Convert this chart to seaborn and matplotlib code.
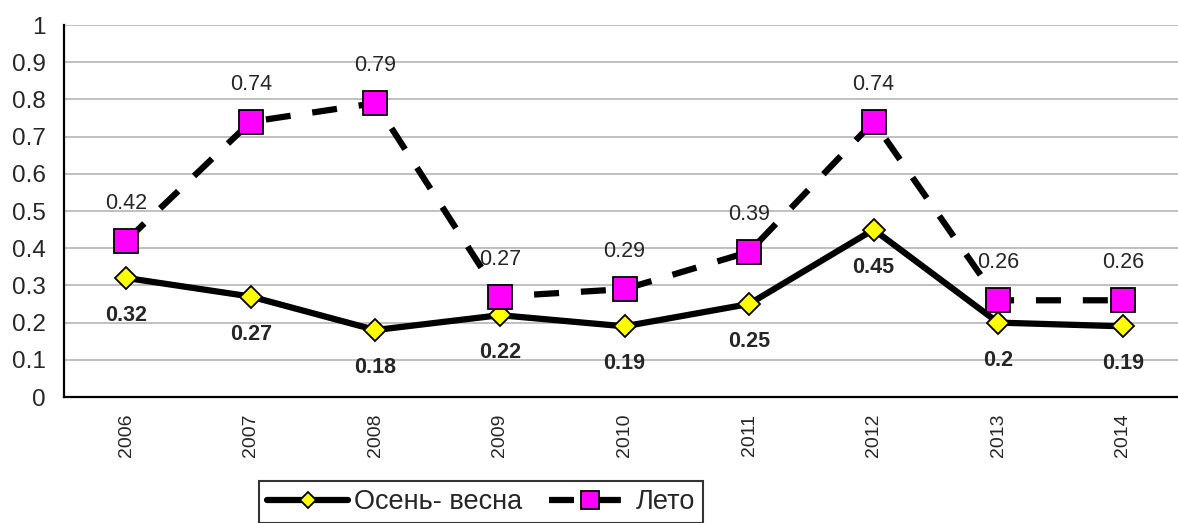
import numpy as np
import pandas as pd
import matplotlib
matplotlib.use("Agg")
import matplotlib.pyplot as plt
import seaborn as sns

years = ["2006", "2007", "2008", "2009", "2010", "2011", "2012", "2013", "2014"]
autumn_spring = [0.32, 0.27, 0.18, 0.22, 0.19, 0.25, 0.45, 0.2, 0.19]
summer = [0.42, 0.74, 0.79, 0.27, 0.29, 0.39, 0.74, 0.26, 0.26]

sns.set_style("white")
plt.rcParams["font.family"] = ["Liberation Sans", "DejaVu Sans"]

W, H = 1178, 523
fig = plt.figure(figsize=(W / 100, H / 100), dpi=100)
ax = fig.add_axes([64 / W, (H - 397) / H, (1185 - 64) / W, (397 - 25) / H])

df = pd.DataFrame({"pos": np.arange(len(years)), "as": autumn_spring, "su": summer})

# horizontal grid
for v in np.arange(0.1, 1.01, 0.1):
    ax.axhline(v, color="#c0c0c0", lw=1.4, zorder=0)

sns.lineplot(data=df, x="pos", y="as", ax=ax, color="black", lw=4.5,
             marker="D", markersize=11.5, markerfacecolor="#ffff00",
             markeredgecolor="black", markeredgewidth=1.3,
             label="Осень- весна", zorder=3)
sns.lineplot(data=df, x="pos", y="su", ax=ax, color="black", lw=4.5,
             linestyle=(0, (4, 3.5)), dash_capstyle="butt",
             marker="s", markersize=17.5, markerfacecolor="#ff00ff",
             markeredgecolor="black", markeredgewidth=1.3,
             label="Лето", zorder=4)

for i, v in enumerate(autumn_spring):
    ax.annotate(f"{v:g}", (i, v), xytext=(0, -27), textcoords="offset points",
                ha="center", va="center", fontsize=15.5, fontweight="bold")
for i, v in enumerate(summer):
    ax.annotate(f"{v:g}", (i, v), xytext=(0, 27), textcoords="offset points",
                ha="center", va="center", fontsize=15.5)

ax.set_xlim(-0.5, len(years) - 0.5)
ax.set_ylim(0, 1)
ax.set_yticks(np.arange(0, 1.01, 0.1))
ax.set_yticklabels(["0"] + [f"{v:.1f}" for v in np.arange(0.1, 0.95, 0.1)] + ["1"])
ax.set_xticks(np.arange(-0.5, len(years), 1))
ax.set_xticklabels([])
ax.set_xticks(np.arange(len(years)), minor=True)
ax.set_xticklabels(years, minor=True, rotation=90)
ax.tick_params(axis="x", which="minor", length=0, pad=12, labelsize=14)
ax.tick_params(axis="x", which="major", length=5, width=1.5, direction="out")
ax.tick_params(axis="y", length=6, width=1.5, direction="out", labelsize=17.5, pad=7)
ax.set_xlabel("")
ax.set_ylabel("")

for s in ["top", "right"]:
    ax.spines[s].set_visible(False)
for s in ["left", "bottom"]:
    ax.spines[s].set_color("black")
    ax.spines[s].set_linewidth(1.6)

leg = ax.legend(loc="upper left", bbox_to_anchor=(259 / W, 1 - 481 / H),
                bbox_transform=fig.transFigure, ncol=2, fontsize=19.5,
                frameon=True, fancybox=False, handlelength=3.0,
                handletextpad=0.2, columnspacing=1.0, markerscale=0.75,
                borderaxespad=0, borderpad=0.3)
leg.get_frame().set_edgecolor("black")
leg.get_frame().set_linewidth(1.5)

fig.savefig("out.png", dpi=100)
